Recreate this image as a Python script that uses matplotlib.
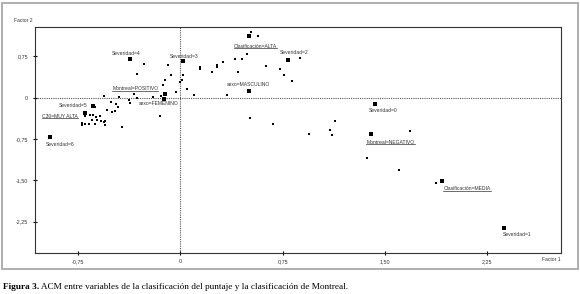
"""ACM (Factor 1 x Factor 2) map: category points + individual coordinates."""

import matplotlib

matplotlib.use("Agg")
import matplotlib.pyplot as plt
from matplotlib.patches import Rectangle
from matplotlib.lines import Line2D
from matplotlib.ticker import FuncFormatter

# Category points (squares) with labels; underlined = active categories.
cat_names = [
    "Severidad=4", "Montreal=POSITIVO", "sexo=FEMENINO", "Severidad=5",
    "C30=MUY ALTA", "Severidad=6", "Severidad=3", "Clasificación=ALTA",
    "Severidad=2", "sexo=MASCULINO", "Severidad=0", "Montreal=NEGATIVO",
    "Clasificación=MEDIA", "Severidad=1",
]
cat_x = [-0.37, -0.11, -0.12, -0.64, -0.70, -0.96, 0.02, 0.50,
         0.79, 0.50, 1.43, 1.40, 1.92, 2.37]
cat_y = [0.70, 0.06, -0.02, -0.15, -0.28, -0.72, 0.67, 1.12,
         0.69, 0.13, -0.12, -0.66, -1.51, -2.36]
cat_active = [False, True, False, False, True, False, False, True,
              False, False, False, True, True, False]

# Individuals (small dots)
ind_x = [-0.27, -0.09, -0.32, -0.07, -0.11, -0.13, -0.03, -0.56, -0.45, -0.34,
         -0.32, -0.38, -0.37, -0.20, -0.14, -0.51, -0.47, -0.46, -0.54, -0.50,
         -0.48, -0.15, -0.43, -0.63, -0.66, -0.64, -0.62, -0.59, -0.65, -0.61,
         -0.58, -0.56, -0.72, -0.72, -0.70, -0.67, -0.63, -0.55, -0.55, -0.70,
         0.14, 0.14, 0.27, 0.27, 0.31, 0.23, 0.40, 0.45, 0.49, 0.42,
         0.63, 0.73, 0.76, 0.82, 0.02, 0.01, 0.00, 0.05, 0.10, 0.34,
         0.51, 0.68, 0.94, 0.88, 1.13, 1.10, 1.11, 1.68, 1.37, 1.60,
         1.87, 0.52, 0.57]
ind_y = [0.61, 0.59, 0.43, 0.41, 0.33, 0.24, 0.11, 0.03, 0.01, 0.06,
         0.00, -0.04, -0.10, 0.02, 0.03, -0.08, -0.12, -0.16, -0.22, -0.26,
         -0.24, -0.34, -0.54, -0.16, -0.31, -0.31, -0.35, -0.33, -0.41, -0.41,
         -0.43, -0.44, -0.45, -0.50, -0.48, -0.48, -0.48, -0.42, -0.50, -0.33,
         0.55, 0.52, 0.59, 0.55, 0.64, 0.46, 0.70, 0.70, 0.79, 0.46,
         0.58, 0.52, 0.42, 0.31, 0.41, 0.32, 0.28, 0.15, 0.05, 0.05,
         -0.36, -0.48, -0.65, 0.72, -0.42, -0.59, -0.67, -0.61, -1.10, -1.31,
         -1.54, 1.19, 1.12]

x_ticks = [-0.75, 0, 0.75, 1.50, 2.25]
y_ticks = [0.75, 0, -0.75, -1.50, -2.25]

# label placement: (dx, dy) in pixels from the point, horizontal alignment
label_pos = [
    (-4, 6, "center"), (-7, 6, "right"), (-5, -5, "center"), (-6, 0, "right"),
    (-7, -3, "right"), (-4, -7, "left"), (1, 4, "center"), (7, -10, "center"),
    (6, 7, "center"), (0, 6, "center"), (8, -6, "center"), (-5, -8, "left"),
    (1, -8, "left"), (-1, -7, "left"),
]

W, H = 580, 294
fig = plt.figure(figsize=(W / 100, H / 100), dpi=100)
ax = fig.add_axes([34.5 / W, (H - 253) / H, (561 - 34.5) / W, (253 - 26.7) / H])

ax.set_xlim(-1.07, 2.79)
ax.set_ylim(-2.82, 1.29)

ax.axhline(0, color="#555555", lw=0.8, ls=(0, (1, 1)), zorder=1)
ax.axvline(0, color="#555555", lw=0.8, ls=(0, (1, 1)), zorder=1)

ax.plot(ind_x, ind_y, "s", color="black", markersize=1.5, markeredgewidth=0, zorder=3)
ax.plot(cat_x, cat_y, "s", color="black", markersize=2.2, markeredgewidth=0, zorder=4)

label_font = dict(family="Liberation Sans", size=3.6, color="#333333")
texts = []
for name, x, y, act, (dx, dy, ha) in zip(cat_names, cat_x, cat_y, cat_active, label_pos):
    t = ax.annotate(name, (x, y), xytext=(dx, dy), textcoords="offset pixels",
                    ha=ha, va="center", zorder=5, **label_font)
    texts.append((t, act))

ax.set_xticks(x_ticks)
ax.set_yticks(y_ticks)
fmt = FuncFormatter(lambda v, _: "0" if abs(v) < 1e-9 else f"{v:.2f}".replace(".", ","))
ax.xaxis.set_major_formatter(fmt)
ax.yaxis.set_major_formatter(fmt)
ax.tick_params(direction="inout", length=3, width=0.8, labelsize=3.9,
               labelcolor="#333333", pad=3)
for lab in ax.get_xticklabels() + ax.get_yticklabels():
    lab.set_family("Liberation Sans")
for s in ax.spines.values():
    s.set_color("#333333")
    s.set_linewidth(0.8)

fig.text(14 / W, (H - 20) / H, "Factor 2", ha="left", va="center", **label_font)
fig.text(561 / W, (H - 259.5) / H, "Factor 1", ha="right", va="center", **label_font)

# outer frame around the chart
fig.add_artist(Rectangle((2 / W, (H - 269) / H), 576 / W, 266 / H,
                         transform=fig.transFigure, fill=False,
                         edgecolor="#a8a8a8", lw=1.3))

# caption
cap_font = dict(family="Liberation Serif", size=6.7, color="black")
t1 = fig.text(3 / W, (H - 287) / H, "Figura 3.", fontweight="bold",
              ha="left", va="center", **cap_font)
cap = ax.annotate(" ACM entre variables de la clasificación del puntaje y la clasificación de Montreal.",
                  xy=(1, 0.5), xycoords=t1, ha="left", va="center",
                  annotation_clip=False, **cap_font)

# underline the active categories
fig.canvas.draw()
r = fig.canvas.get_renderer()
for t, act in texts:
    if not act:
        continue
    bb = t.get_window_extent(r)
    fig.add_artist(Line2D([bb.x0, bb.x1], [bb.y0 + 0.3, bb.y0 + 0.3],
                          transform=None, color="#333333", lw=0.5))

fig.savefig("out.png", dpi=100)
